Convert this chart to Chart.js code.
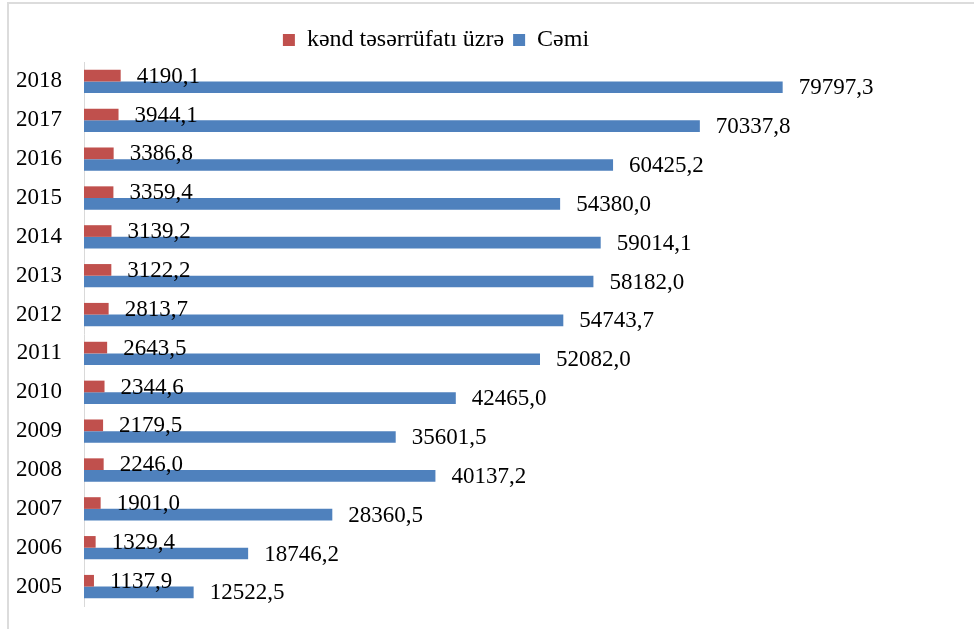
<!DOCTYPE html>
<html>
<head>
<meta charset="utf-8">
<script src="https://cdn.jsdelivr.net/npm/chart.js@4"></script>
<style>
  body { margin: 0; background: #fff; }
  #wrap { position: relative; width: 974px; height: 629px; }
  #frame { position: absolute; left: 7px; top: 2px; width: 967px; height: 627px;
           border-top: 2px solid #dcdcdc; border-left: 2px solid #dcdcdc; box-sizing: border-box; }
  canvas { position: absolute; left: 0; top: 0; }
</style>
</head>
<body>
<div id="wrap">
  <div id="frame"></div>
  <canvas id="barChart" width="974" height="629"></canvas>
</div>
<script>
// years, top to bottom as in the picture
const years = ['2018', '2017', '2016', '2015', '2014', '2013', '2012', '2011', '2010', '2009', '2008', '2007', '2006', '2005'];
const kendTesserrufati = [4190.1, 3944.1, 3386.8, 3359.4, 3139.2, 3122.2, 2813.7, 2643.5, 2344.6, 2179.5, 2246.0, 1901.0, 1329.4, 1137.9];
const cemi = [79797.3, 70337.8, 60425.2, 54380.0, 59014.1, 58182.0, 54743.7, 52082.0, 42465.0, 35601.5, 40137.2, 28360.5, 18746.2, 12522.5];
const seriesNames = ['kənd təsərrüfatı üzrə', 'Cəmi'];

const serif = '"Liberation Serif", "Times New Roman", serif';

// value labels at the end of each bar
const valueLabels = {
    id: 'valueLabels',
    afterDatasetsDraw(chart) {
        const ctx = chart.ctx;
        ctx.save();
        ctx.font = '23px ' + serif;
        ctx.fillStyle = '#000';
        ctx.textAlign = 'left';
        ctx.textBaseline = 'middle';
        chart.data.datasets.forEach((ds, i) => {
            chart.getDatasetMeta(i).data.forEach((bar, j) => {
                const txt = ds.data[j].toFixed(1).replace('.', ',');
                ctx.fillText(txt, bar.x + 16, bar.y + 1);
            });
        });
        ctx.restore();
    }
};

const barCtx = document.getElementById('barChart');
new Chart(barCtx, {
    type: 'bar',
    data: {
        labels: years,
        datasets: [{
            label: seriesNames[0],
            data: kendTesserrufati,
            backgroundColor: '#c0504d',
            borderWidth: 0
        }, {
            label: seriesNames[1],
            data: cemi,
            backgroundColor: '#4f81bd',
            borderWidth: 0
        }]
    },
    options: {
        indexAxis: 'y',
        responsive: false,
        animation: false,
        categoryPercentage: 0.6,
        barPercentage: 1.0,
        layout: { padding: { top: 19, right: 102, bottom: 23, left: 0 } },
        plugins: {
            legend: {
                position: 'top',
                labels: {
                    boxWidth: 12,
                    boxHeight: 12,
                    padding: 9,
                    color: '#000',
                    font: { family: serif, size: 24 }
                }
            },
            tooltip: { enabled: false }
        },
        scales: {
            x: {
                display: false,
                min: 0,
                max: 90000
            },
            y: {
                grid: { display: false, drawTicks: false },
                border: { display: true, color: '#d9d9d9', width: 1 },
                ticks: {
                    color: '#000',
                    padding: 22,
                    font: { family: serif, size: 23 }
                },
                afterFit(scale) {
                    scale.width = 84;
                    scale.paddingTop = 0;
                    scale.paddingBottom = 0;
                }
            }
        }
    },
    plugins: [valueLabels]
});
</script>
</body>
</html>
